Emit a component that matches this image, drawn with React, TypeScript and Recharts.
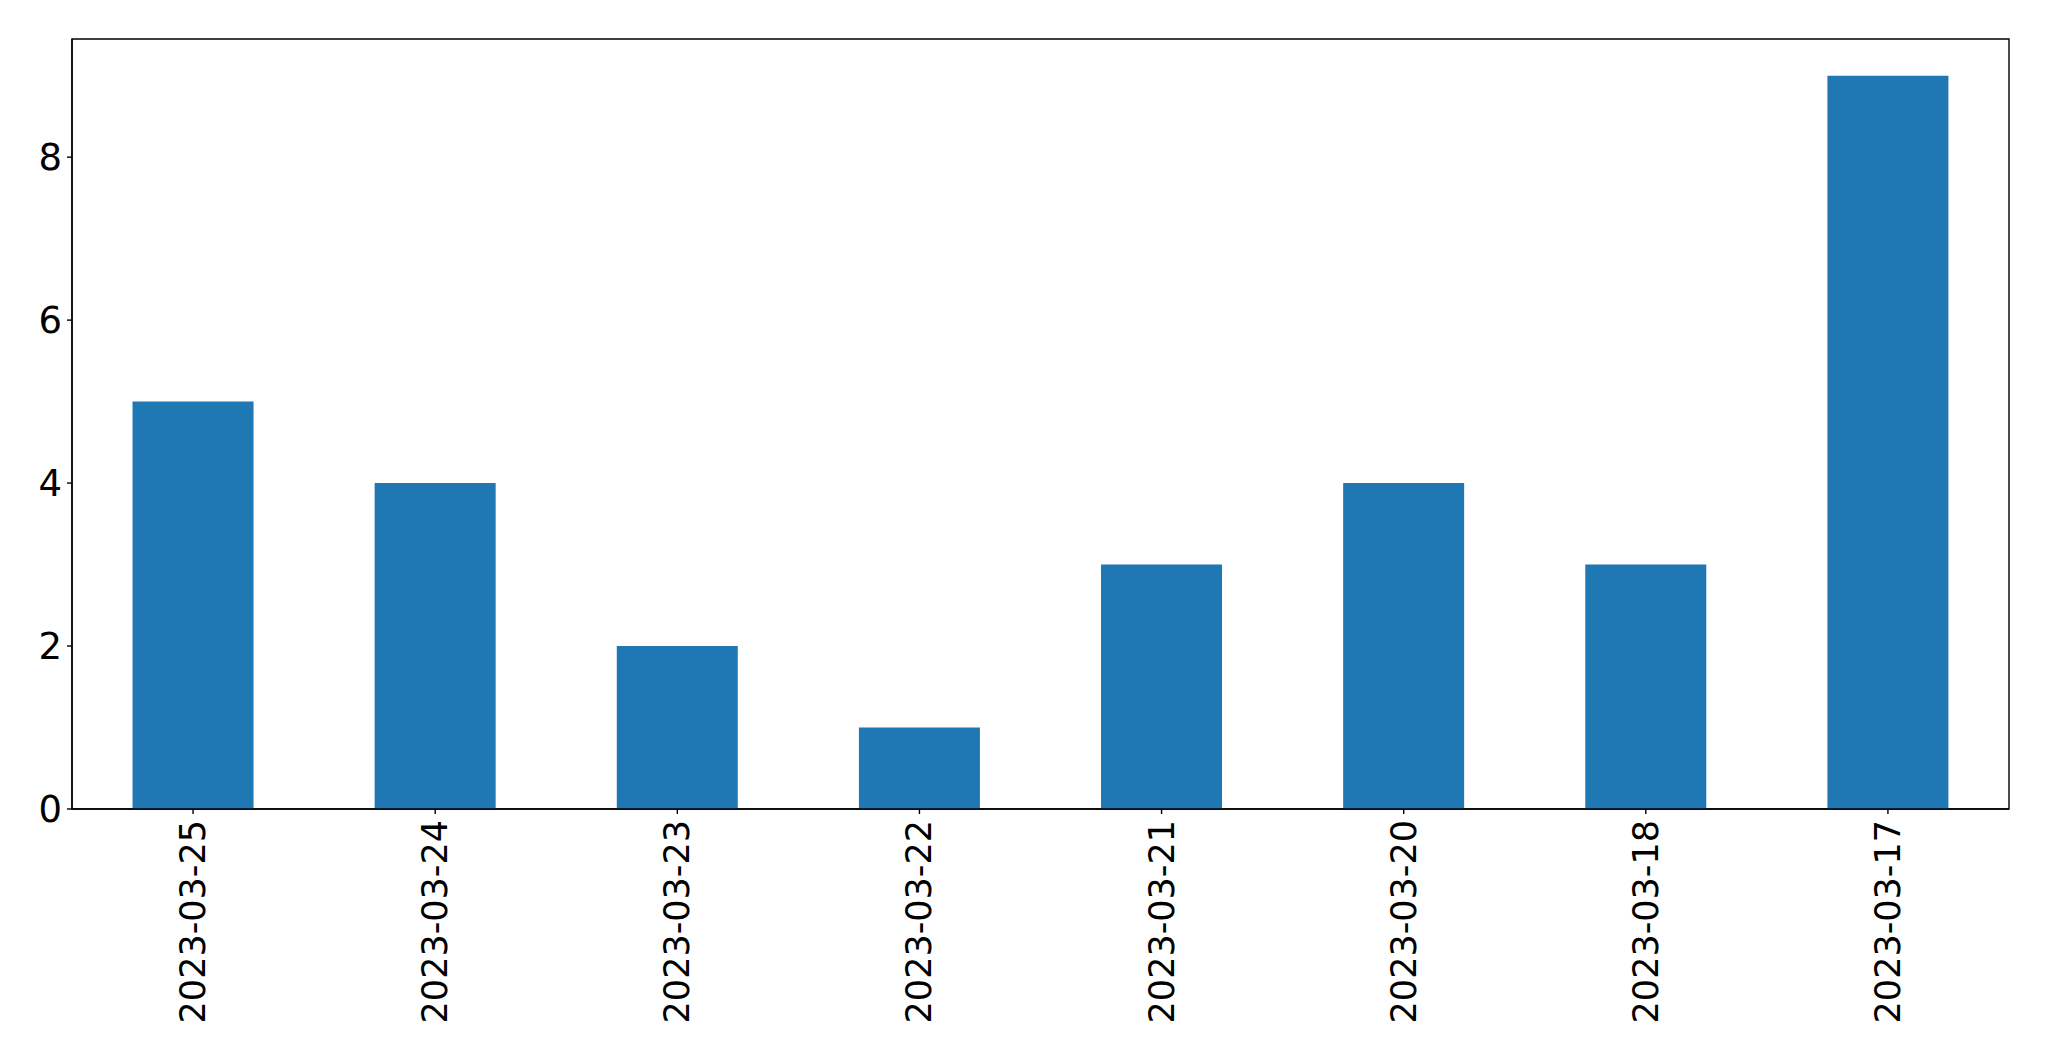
import { BarChart, Bar, XAxis, YAxis, ReferenceArea } from "recharts";

const dates = [
  "2023-03-25",
  "2023-03-24",
  "2023-03-23",
  "2023-03-22",
  "2023-03-21",
  "2023-03-20",
  "2023-03-18",
  "2023-03-17",
];
const counts = [5, 4, 2, 1, 3, 4, 3, 9];
const yTicks = [0, 2, 4, 6, 8];

const data = dates.map((date, i) => ({ date, count: counts[i] }));

const FONT = "'DejaVu Sans', sans-serif";

// eslint-disable-next-line @typescript-eslint/no-explicit-any
function DateTick({ x, y, payload }: any) {
  return (
    <text
      x={x}
      y={y}
      transform={`rotate(-90, ${x}, ${y})`}
      textAnchor="end"
      dominantBaseline="central"
      fontSize={35}
      fontFamily={FONT}
      fill="#000"
    >
      {payload.value}
    </text>
  );
}

export default function App() {
  return (
    <div style={{ position: "absolute", left: 0, top: 0, background: "#fff" }}>
      <BarChart
        width={2049}
        height={1061}
        data={data}
        margin={{ top: 39, right: 40, left: 0, bottom: 22 }}
        barCategoryGap="25%"
        style={{ fontFamily: FONT }}
      >
        <XAxis
          dataKey="date"
          height={230}
          tick={<DateTick />}
          tickSize={5}
          tickMargin={6}
          interval={0}
          stroke="#000"
          axisLine={{ stroke: "#000", strokeWidth: 1.4 }}
          tickLine={{ stroke: "#000", strokeWidth: 1.4 }}
        />
        <YAxis
          width={72}
          domain={[0, 9.45]}
          ticks={yTicks}
          tickSize={5}
          tickMargin={5}
          stroke="#000"
          tick={{ fontSize: 37, fill: "#000", fontFamily: FONT }}
          axisLine={{ stroke: "#000", strokeWidth: 1.4 }}
          tickLine={{ stroke: "#000", strokeWidth: 1.4 }}
        />
        <Bar dataKey="count" fill="#1f77b4" isAnimationActive={false} />
        {/* frame around the plot area, like matplotlib spines */}
        <ReferenceArea y1={0} y2={9.45} fill="none" stroke="#000" strokeWidth={1.4} />
      </BarChart>
    </div>
  );
}
